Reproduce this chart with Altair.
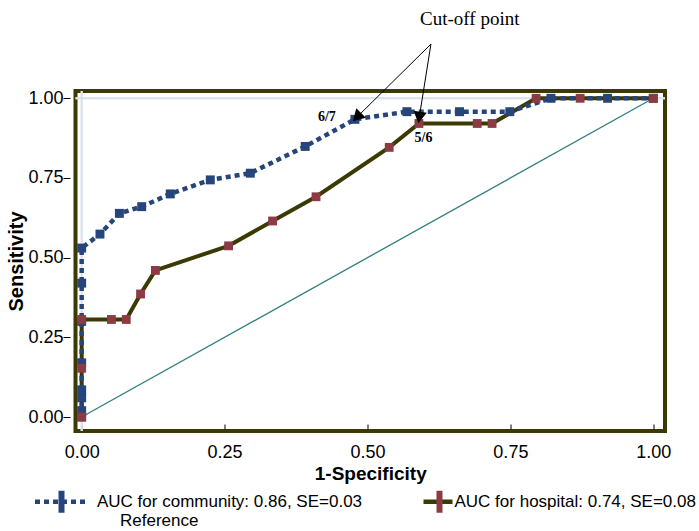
import altair as alt
import pandas as pd

# ---------------- data ----------------
comm_x = [0, 0, 0, 0, 0, 0, 0, 0, 0.032, 0.066, 0.105, 0.155, 0.225, 0.295,
          0.391, 0.478, 0.569, 0.661, 0.749, 0.821, 0.92, 1.0]
comm_y = [0, 0.02, 0.06, 0.085, 0.17, 0.30, 0.42, 0.53, 0.574, 0.639, 0.66,
          0.70, 0.744, 0.765, 0.849, 0.934, 0.958, 0.958, 0.958, 1.0, 1.0, 1.0]
hosp_x = [0, 0, 0, 0.052, 0.078, 0.103, 0.129, 0.257, 0.334, 0.41, 0.538,
          0.59, 0.692, 0.718, 0.795, 0.872, 1.0]
hosp_y = [0, 0.153, 0.306, 0.306, 0.306, 0.386, 0.46, 0.537, 0.615, 0.691,
          0.846, 0.921, 0.921, 0.921, 1.0, 1.0, 1.0]
ref_x = [0.0, 1.0]
ref_y = [0.0, 1.0]

legend_labels = ["AUC for community: 0.86, SE=0.03",
                 "AUC for hospital: 0.74, SE=0.08",
                 "Reference"]
x_ticks = [0, 0.25, 0.5, 0.75, 1.0]
y_ticks = [0, 0.25, 0.5, 0.75, 1.0]

cut_title = ["Cut-off point"]
cut_title_x = [0.679]
cut_title_y = [1.249]
cut_labels = ["6/7", "5/6"]
cut_label_x = [0.429, 0.598]
cut_label_y = [0.941, 0.875]
arrow_from_x = [0.611, 0.611]
arrow_from_y = [1.17, 1.17]
arrow_head_x = [0.4816, 0.5906]
arrow_head_y = [0.941, 0.940]
arrow_angle = [225, 189]

# ---------------- styles ----------------
BLUE = "#26457a"
RED = "#8c3a44"
OLIVE = "#3b3a05"
TEAL = "#2e7f79"
GRID = "#dde3ec"
SANS = "Liberation Sans"
SERIF = "Liberation Serif"

comm = pd.DataFrame({"x": comm_x, "y": comm_y, "i": list(range(len(comm_x)))})
hosp = pd.DataFrame({"x": hosp_x, "y": hosp_y, "i": list(range(len(hosp_x)))})
ref = pd.DataFrame({"x": ref_x, "y": ref_y})
arrows = pd.DataFrame({"x0": arrow_from_x, "y0": arrow_from_y,
                       "x1": arrow_head_x, "y1": arrow_head_y, "a": arrow_angle})
cutlab = pd.DataFrame({"x": cut_label_x, "y": cut_label_y, "t": cut_labels})
cuttitle = pd.DataFrame({"x": cut_title_x, "y": cut_title_y, "t": cut_title})
legdf = pd.DataFrame({"entry": legend_labels})

xs = alt.Scale(domain=[-0.0108, 1.0205], nice=False, zero=False)
ys = alt.Scale(domain=[-0.0439, 1.0229], nice=False, zero=False)

xaxis = alt.Axis(values=x_ticks, format=".2f", domain=False, grid=False,
                 offset=-7, tickSize=5, tickColor="black", tickWidth=1,
                 labelFont=SANS, labelFontSize=18, labelColor="black",
                 labelPadding=14, labelFlush=False, labelOverlap=False,
                 title="1-Specificity", titleFont=SANS, titleFontSize=19,
                 titleFontWeight="bold", titleColor="black", titlePadding=3)
yaxis = alt.Axis(values=y_ticks, format=".2f", domain=False, grid=False,
                 offset=5.5, tickSize=7, tickColor="black", tickWidth=1,
                 labelFont=SANS, labelFontSize=18, labelColor="black",
                 labelPadding=0, labelFlush=False, labelOverlap=False,
                 title="Sensitivity", titleFont=SANS, titleFontSize=20,
                 titleFontWeight="bold", titleColor="black", titlePadding=1)

X = alt.X("x:Q", scale=xs, axis=xaxis)
Y = alt.Y("y:Q", scale=ys, axis=yaxis)

grid_v = alt.Chart(ref).mark_rule(color=GRID, strokeWidth=2).encode(x=alt.datum(0, scale=xs))
grid_h = alt.Chart(ref).mark_rule(color=GRID, strokeWidth=2).encode(y=alt.datum(1, scale=ys))

ref_line = alt.Chart(ref).mark_line(color=TEAL, strokeWidth=1.3).encode(x=X, y=Y)
hosp_line = alt.Chart(hosp).mark_line(color=OLIVE, strokeWidth=4).encode(
    x=X, y=Y, order="i:Q")
comm_line = alt.Chart(comm).mark_line(color=BLUE, strokeWidth=4.5, strokeDash=[5, 4]).encode(
    x=X, y=Y, order="i:Q")
comm_pts = alt.Chart(comm).mark_square(color=BLUE, size=80, opacity=1).encode(x=X, y=Y)
hosp_pts = alt.Chart(hosp).mark_square(color=RED, size=78, opacity=1).encode(x=X, y=Y)

arrow_lines = alt.Chart(arrows).mark_rule(color="black", strokeWidth=1).encode(
    x=alt.X("x0:Q", scale=xs, axis=xaxis), y=alt.Y("y0:Q", scale=ys, axis=yaxis),
    x2="x1:Q", y2="y1:Q")
arrow_heads = alt.Chart(arrows).mark_point(shape="triangle-up", filled=True, color="black",
                                          size=180, opacity=1).encode(
    x=alt.X("x1:Q", scale=xs, axis=xaxis), y=alt.Y("y1:Q", scale=ys, axis=yaxis),
    angle=alt.Angle("a:Q", scale=None))
cut_text = alt.Chart(cuttitle).mark_text(font=SERIF, fontSize=19, color="black").encode(
    x=X, y=Y, text="t:N")
cut_lab_text = alt.Chart(cutlab).mark_text(font=SERIF, fontSize=14, fontWeight="bold",
                                           color="black").encode(x=X, y=Y, text="t:N")

# ---------------- legend (overlaid legends: lines + marker bars, plus "Reference") ----------------
B = "M-2.409,-1M3.1,1"
line_paths = [B + "M-2.409,0H2.409", B + "M0.409,0H3.045"]
bar_paths = [B + "M-0.273,-1H0.273V1H-0.273Z",
             B + "M1.591,-1H2.136V1H1.591Z"]
curve_labels = legend_labels[:2]
ref_label = legend_labels[2:]

common = dict(orient="none", legendX=-27.5, legendY=397, direction="horizontal", columns=2,
              columnPadding=20.5, symbolSize=484, symbolStrokeWidth=4.5,
              symbolOpacity=1, labelFont=SANS, labelFontSize=17, labelLimit=600,
              labelOffset=22, title=None, padding=0)
LEG1 = alt.Legend(labelColor="black", **common)
LEG2 = alt.Legend(labelColor="transparent", symbolStrokeColor="transparent", **common)
LEG3 = alt.Legend(orient="none", legendX=-4.5, legendY=416.5, symbolSize=484,
                  symbolStrokeWidth=4.5, symbolOpacity=1, labelFont=SANS, labelFontSize=17,
                  labelLimit=600, labelOffset=22, title=None, padding=0, labelColor="black")

h1 = alt.Chart(legdf).transform_filter("false").mark_point(filled=False, opacity=1).encode(
    stroke=alt.Stroke("entry:N", scale=alt.Scale(domain=curve_labels, range=[BLUE, OLIVE]),
                      legend=LEG1),
    strokeDash=alt.StrokeDash("entry:N", scale=alt.Scale(domain=curve_labels,
                                                         range=[[5, 4], [1, 0]]), legend=LEG1),
    shape=alt.Shape("entry:N", scale=alt.Scale(domain=curve_labels, range=line_paths), legend=LEG1),
)
h2 = alt.Chart(legdf).transform_filter("false").mark_point(filled=True, opacity=1).encode(
    fill=alt.Fill("entry:N", scale=alt.Scale(domain=curve_labels, range=[BLUE, RED]),
                  legend=LEG2),
    shape=alt.Shape("entry:N", scale=alt.Scale(domain=curve_labels, range=bar_paths), legend=LEG2),
)
h3 = alt.Chart(legdf).transform_filter("false").mark_point(filled=False, opacity=1).encode(
    stroke=alt.Stroke("entry:N", scale=alt.Scale(domain=ref_label, range=["transparent"]),
                      legend=LEG3),
)

chart = alt.layer(
    grid_v, grid_h, ref_line, hosp_line, comm_line, comm_pts, hosp_pts,
    arrow_lines, arrow_heads, cut_text, cut_lab_text, h1, h2, h3
).resolve_scale(
    shape="independent", fill="independent", stroke="independent", strokeDash="independent"
).properties(
    width=589.5, height=340,
    autosize=alt.AutoSizeParams(type="none"),
    padding={"left": 75.5, "top": 91, "right": 34, "bottom": 100},
    background="white",
).configure_view(stroke=OLIVE, strokeWidth=4)

chart.save("out.html", embed_options={"renderer": "svg", "actions": False})
